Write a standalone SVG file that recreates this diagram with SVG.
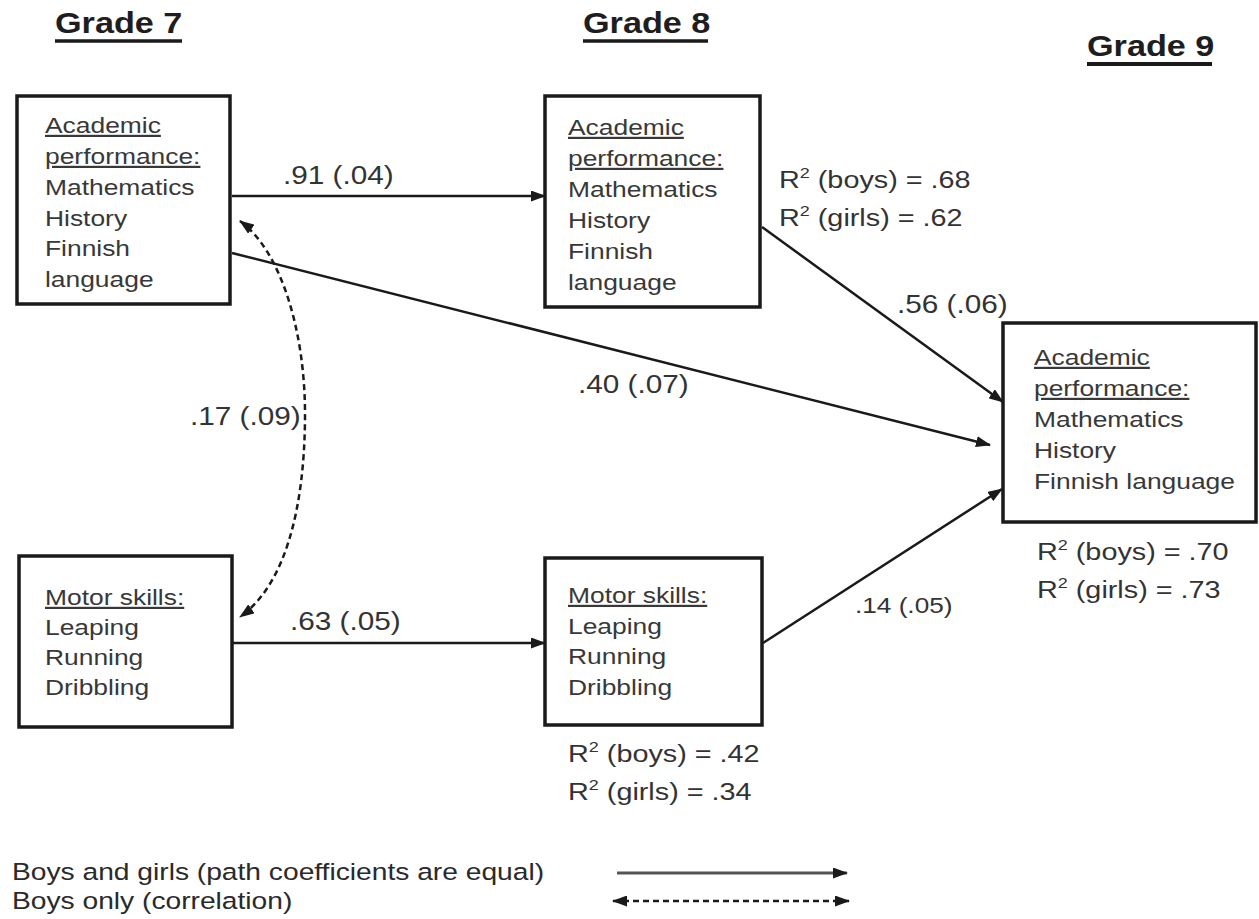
<svg xmlns="http://www.w3.org/2000/svg" width="1259" height="919" viewBox="0 0 1259 919">
<style>
text { font-family: "Liberation Sans", Arial, sans-serif; fill: #383838; transform-box: fill-box; transform-origin: 0 0; }
.title { font-size: 29px; font-weight: bold; fill: #1e1e1e; transform: scaleX(1.18); }
.bt { font-size: 22px; transform: scaleX(1.2); }
.u { text-decoration: underline; text-decoration-thickness: 2.5px; }
.lab { font-size: 25px; fill: #333; transform: scaleX(1.19); }
.r2 { font-size: 24px; fill: #333; transform: scaleX(1.2); }
.leg { font-size: 23.5px; fill: #2a2a2a; transform: scaleX(1.2); }
.box { fill: #fff; stroke: #1a1a1a; stroke-width: 3.5; }
.ul { stroke: #1a1a1a; stroke-width: 3.5; }
.c { fill: none; stroke: #1a1a1a; stroke-width: 2.5; }
.d { fill: none; stroke: #1a1a1a; stroke-width: 2.5; stroke-dasharray: 6 4; }
</style>
<defs>
<marker id="ah" markerUnits="userSpaceOnUse" markerWidth="15" markerHeight="11" refX="14" refY="5.5" orient="auto-start-reverse">
<path d="M0,0 L15,5.5 L0,11 z" fill="#1a1a1a"/>
</marker>
</defs>

<g id="titles">
<text class="title" x="55" y="33">Grade 7</text>
<line class="ul" x1="55" y1="41" x2="182" y2="41"/>
<text class="title" x="583" y="33">Grade 8</text>
<line class="ul" x1="583" y1="41" x2="708" y2="41"/>
<text class="title" x="1087" y="56">Grade 9</text>
<line class="ul" x1="1087" y1="64" x2="1212" y2="64" style="stroke-width:4"/>
</g>

<g id="g7-academic">
<rect class="box" x="17" y="96" width="213" height="208"/>
<text class="bt u" x="45" y="133">Academic</text>
<text class="bt u" x="45" y="164">performance:</text>
<text class="bt" x="45" y="195">Mathematics</text>
<text class="bt" x="45" y="226">History</text>
<text class="bt" x="45" y="256">Finnish</text>
<text class="bt" x="45" y="287">language</text>
</g>

<g id="g8-academic">
<rect class="box" x="545" y="96" width="215" height="211"/>
<text class="bt u" x="568" y="135">Academic</text>
<text class="bt u" x="568" y="166">performance:</text>
<text class="bt" x="568" y="197">Mathematics</text>
<text class="bt" x="568" y="228">History</text>
<text class="bt" x="568" y="259">Finnish</text>
<text class="bt" x="568" y="290">language</text>
<text class="r2" x="779" y="188">R<tspan font-size="15" dy="-10">2</tspan><tspan dy="10"> (boys) = .68</tspan></text>
<text class="r2" x="779" y="226">R<tspan font-size="15" dy="-10">2</tspan><tspan dy="10"> (girls) = .62</tspan></text>
</g>

<g id="g9-academic">
<rect class="box" x="1003" y="323" width="253" height="199"/>
<text class="bt u" x="1034" y="365">Academic</text>
<text class="bt u" x="1034" y="396">performance:</text>
<text class="bt" x="1034" y="427">Mathematics</text>
<text class="bt" x="1034" y="458">History</text>
<text class="bt" x="1034" y="489">Finnish language</text>
<text class="r2" x="1037" y="560">R<tspan font-size="15" dy="-10">2</tspan><tspan dy="10"> (boys) = .70</tspan></text>
<text class="r2" x="1037" y="598">R<tspan font-size="15" dy="-10">2</tspan><tspan dy="10"> (girls) = .73</tspan></text>
</g>

<g id="g7-motor">
<rect class="box" x="19" y="556" width="213" height="171"/>
<text class="bt u" x="45" y="605">Motor skills:</text>
<text class="bt" x="45" y="635">Leaping</text>
<text class="bt" x="45" y="665">Running</text>
<text class="bt" x="45" y="695">Dribbling</text>
</g>

<g id="g8-motor">
<rect class="box" x="545" y="558" width="217" height="167"/>
<text class="bt u" x="568" y="603">Motor skills:</text>
<text class="bt" x="568" y="634">Leaping</text>
<text class="bt" x="568" y="664">Running</text>
<text class="bt" x="568" y="695">Dribbling</text>
<text class="r2" x="568" y="762">R<tspan font-size="15" dy="-10">2</tspan><tspan dy="10"> (boys) = .42</tspan></text>
<text class="r2" x="568" y="800">R<tspan font-size="15" dy="-10">2</tspan><tspan dy="10"> (girls) = .34</tspan></text>
</g>

<g id="connectors">
<line class="c" x1="232" y1="196" x2="545" y2="196" marker-end="url(#ah)"/>
<line class="c" x1="232" y1="253" x2="990" y2="445" marker-end="url(#ah)"/>
<line class="c" x1="762" y1="227" x2="1003" y2="402" marker-end="url(#ah)"/>
<line class="c" x1="763" y1="643" x2="1002" y2="489" marker-end="url(#ah)"/>
<line class="c" x1="232" y1="643" x2="545" y2="643" marker-end="url(#ah)"/>
<path class="d" d="M240,221 C280,250 306,330 305,420 C304,510 285,585 240,617" marker-start="url(#ah)" marker-end="url(#ah)"/>
<text class="lab" x="283" y="184">.91 (.04)</text>
<text class="lab" x="578" y="393">.40 (.07)</text>
<text class="lab" x="897" y="313">.56 (.06)</text>
<text class="lab" x="190" y="425">.17 (.09)</text>
<text class="lab" x="290" y="630">.63 (.05)</text>
<text class="lab" x="855" y="613" style="font-size:22px">.14 (.05)</text>
</g>

<g id="legend">
<text class="leg" x="12" y="880">Boys and girls (path coefficients are equal)</text>
<text class="leg" x="12" y="909">Boys only (correlation)</text>
<line class="c" x1="617" y1="873" x2="847" y2="873" style="stroke-width:3;stroke:#555" marker-end="url(#ah)"/>
<line class="d" x1="613" y1="901" x2="849" y2="901" marker-start="url(#ah)" marker-end="url(#ah)"/>
</g>
</svg>
